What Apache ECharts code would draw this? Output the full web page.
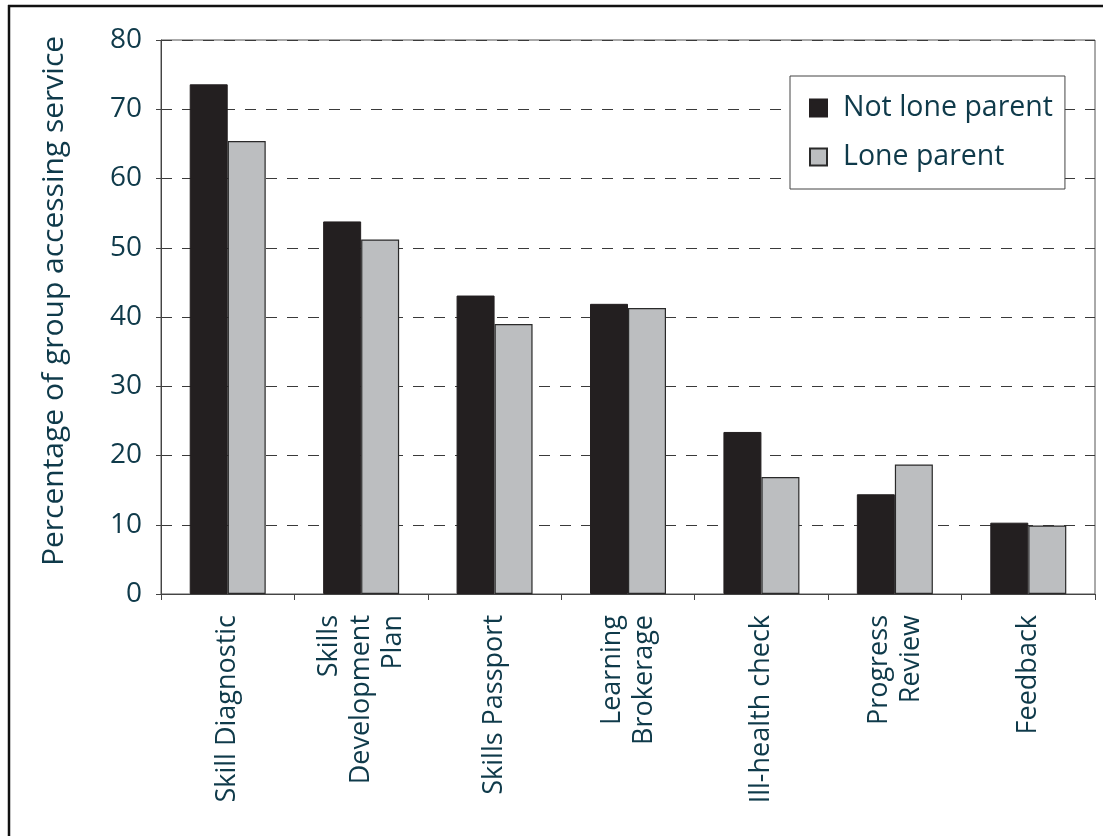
<!DOCTYPE html>
<html>
<head>
<meta charset="utf-8">
<script src="https://cdn.jsdelivr.net/npm/echarts@6/dist/echarts.min.js"></script>
<style>
  html, body { margin: 0; padding: 0; background: #ffffff; }
  #chart { width: 1103px; height: 836px; }
</style>
</head>
<body>
<div id="chart"></div>
<script>
// Services offered and share of each group using them (%)
var categories = [
  'Skill Diagnostic',
  'Skills\nDevelopment\nPlan',
  'Skills Passport',
  'Learning\nBrokerage',
  'Ill-health check',
  'Progress\nReview',
  'Feedback'
];
var notLoneParent = [73.6, 53.8, 43.1, 41.9, 23.4, 14.4, 10.3];
var loneParent = [65.4, 51.2, 39.0, 41.3, 16.9, 18.7, 9.9];
var yTicks = [0, 10, 20, 30, 40, 50, 60, 70, 80];

var TEXT = '#0f3a4a';
var FONT = '"Open Sans", "Noto Sans", sans-serif';

var chart = echarts.init(document.getElementById('chart'), null, { renderer: 'canvas' });

chart.setOption({
  backgroundColor: '#ffffff',
  animation: false,
  grid: {
    left: 161, right: 8, top: 40, bottom: 242,
    show: true, borderColor: '#555555', borderWidth: 1, backgroundColor: 'transparent'
  },
  legend: {
    orient: 'vertical',
    left: 790, top: 76,
    backgroundColor: '#ffffff',
    borderColor: '#444444', borderWidth: 1,
    padding: [17, 12, 17, 19],
    itemGap: 19,
    itemWidth: 17, itemHeight: 17,
    icon: 'rect',
    textStyle: { color: TEXT, fontSize: 28.5, fontFamily: FONT, lineHeight: 30, padding: [0, 0, 0, 11] },
    data: ['Not lone parent', 'Lone parent']
  },
  xAxis: {
    type: 'category',
    data: categories,
    axisLine: { show: true, lineStyle: { color: '#444444', width: 1 } },
    axisTick: { show: true, length: 6, alignWithLabel: false, lineStyle: { color: '#444444' } },
    axisLabel: {
      rotate: 90, interval: 0, margin: 21,
      color: TEXT, fontSize: 27, fontFamily: FONT, lineHeight: 32
    }
  },
  yAxis: {
    type: 'value',
    min: 0, max: 80, interval: 10,
    axisLine: { show: true, lineStyle: { color: '#444444', width: 1 } },
    axisTick: { show: true, length: 5, lineStyle: { color: '#444444' } },
    axisLabel: {
      margin: 19, color: TEXT, fontSize: 28, fontFamily: FONT,
      formatter: function (v) { return yTicks.indexOf(v) >= 0 ? String(v) : ''; }
    },
    splitLine: {
      show: true,
      lineStyle: { color: '#3a3a3a', width: 1.2, type: [11, 10] }
    }
  },
  series: [
    {
      name: 'Not lone parent',
      type: 'bar',
      data: notLoneParent,
      barWidth: 38,
      barGap: '0%',
      itemStyle: { color: '#231f20', borderColor: '#231f20', borderWidth: 1 }
    },
    {
      name: 'Lone parent',
      type: 'bar',
      data: loneParent,
      barWidth: 38,
      barGap: '0%',
      itemStyle: { color: '#bcbec0', borderColor: '#2a2a2a', borderWidth: 1.2 }
    }
  ],
  graphic: [
    {
      type: 'text',
      x: 54, y: 301,
      rotation: Math.PI / 2,
      style: {
        text: 'Percentage of group accessing service',
        fill: TEXT, fontSize: 30, fontFamily: FONT,
        textAlign: 'center', textVerticalAlign: 'middle'
      }
    },
    { type: 'line', shape: { x1: 8, y1: 6, x2: 1103, y2: 6 }, style: { stroke: '#111111', lineWidth: 2.5 } },
    { type: 'line', shape: { x1: 9, y1: 5, x2: 9, y2: 836 }, style: { stroke: '#111111', lineWidth: 2.5 } }
  ]
});
</script>
</body>
</html>
